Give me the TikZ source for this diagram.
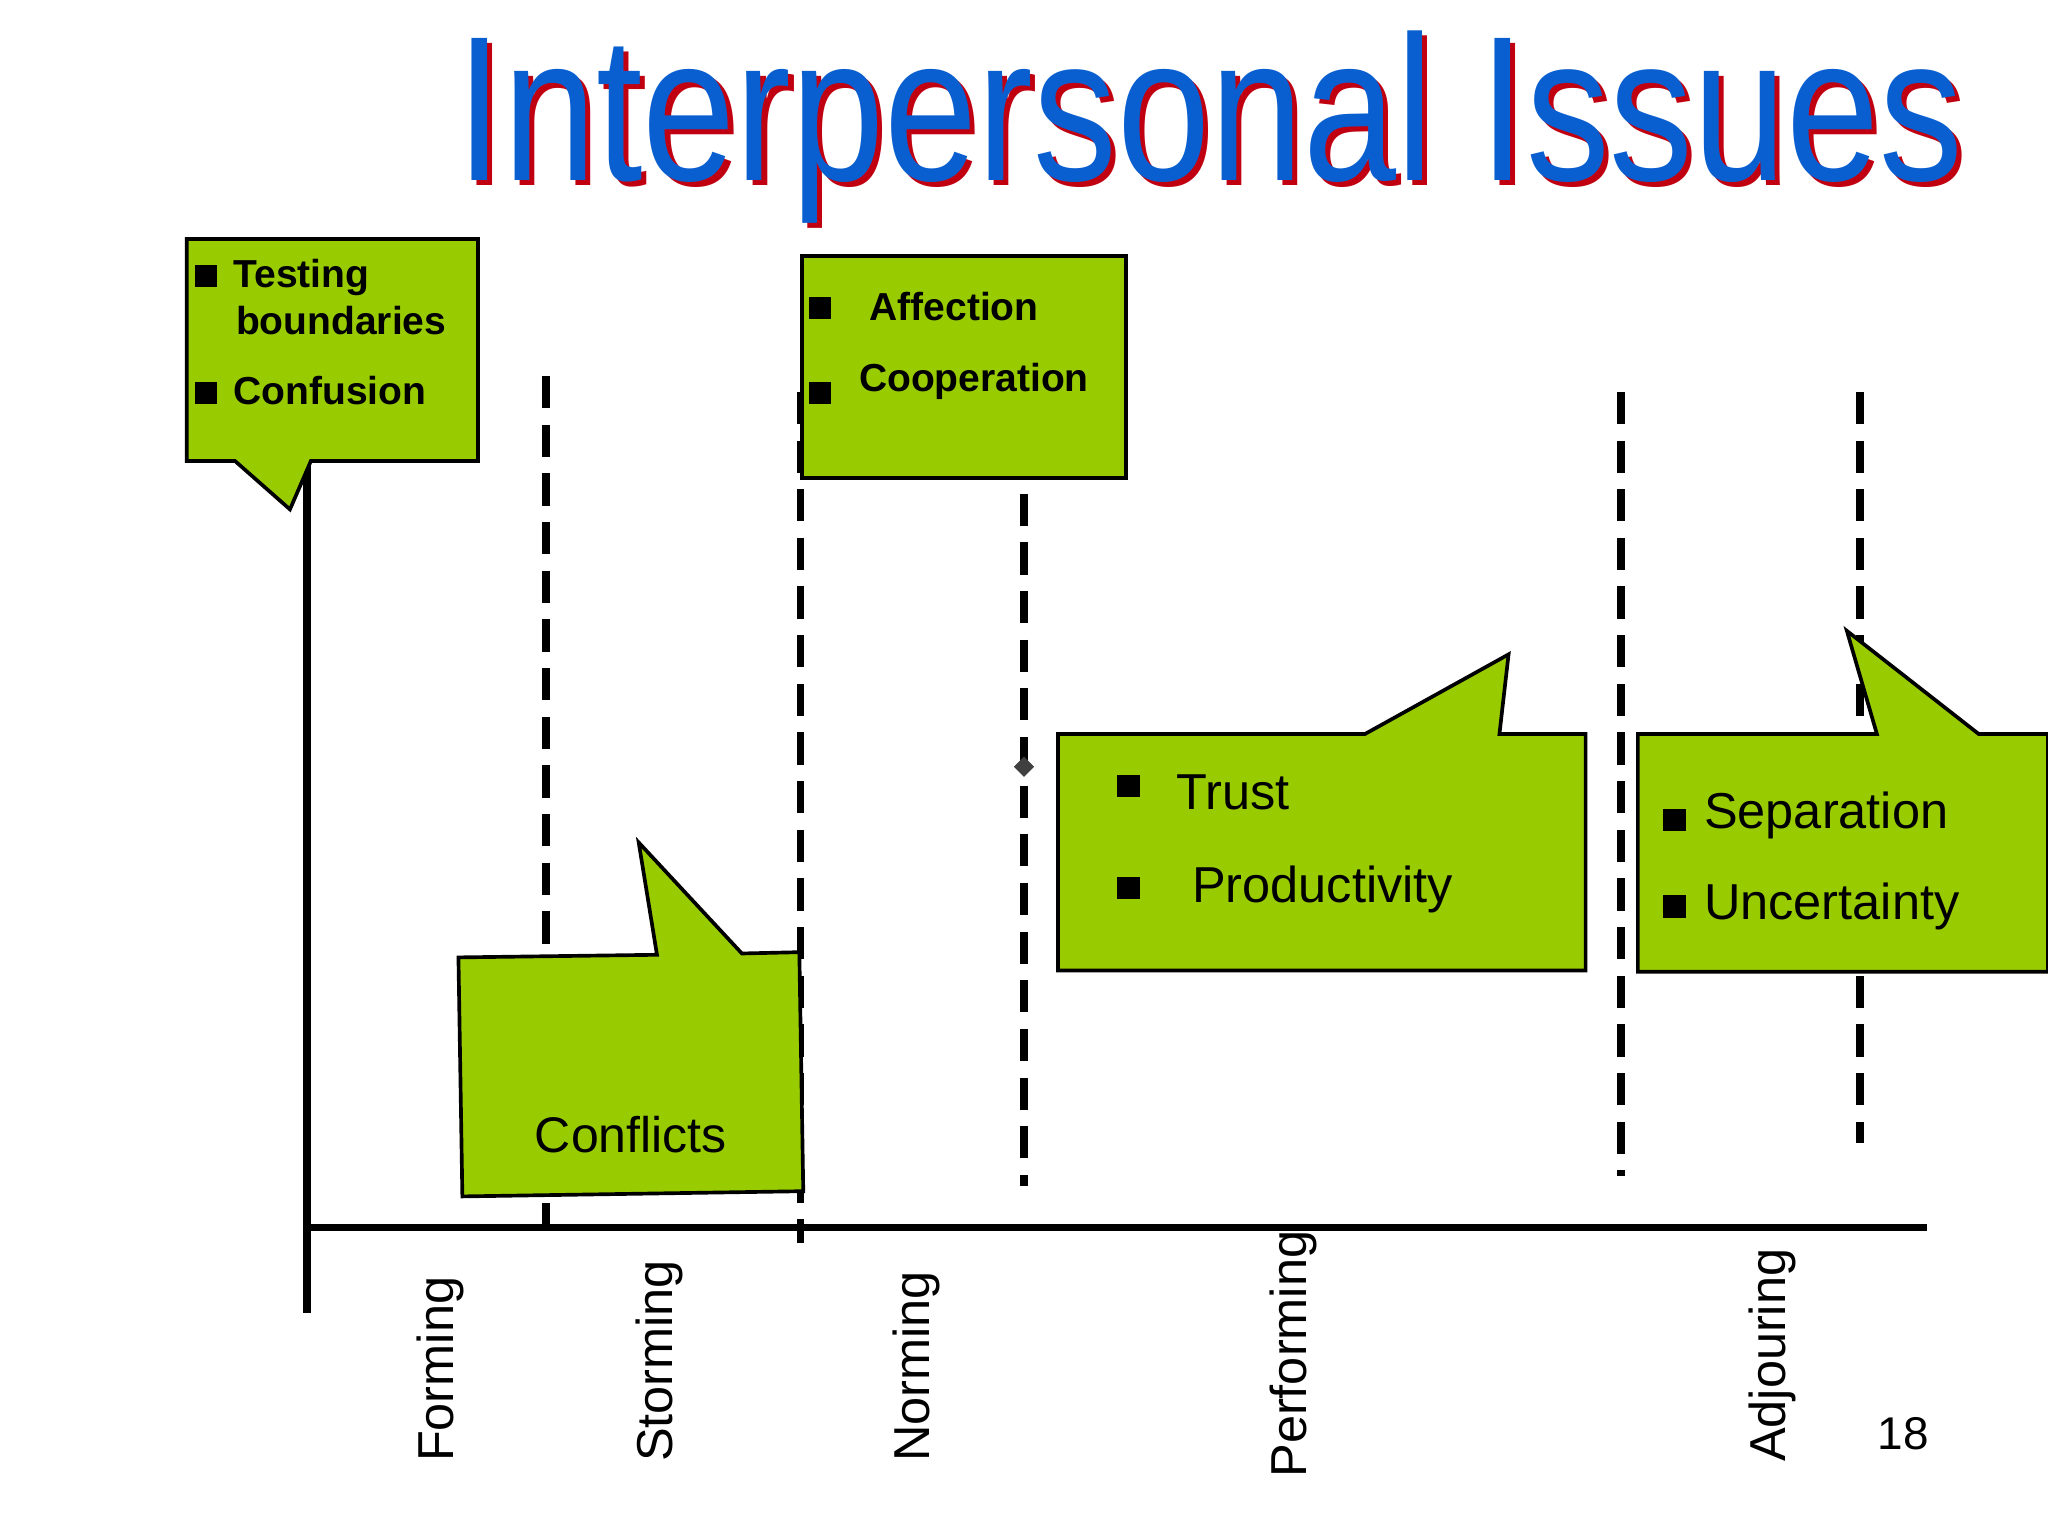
\documentclass[tikz,border=0pt]{standalone}
\usepackage{fontspec}
\setmainfont{Liberation Sans}
\usepackage{graphicx}
\usetikzlibrary{shapes.geometric}
\definecolor{callg}{HTML}{99CC00}
\definecolor{titleblue}{HTML}{0A5FD0}
\definecolor{titlered}{HTML}{C00010}
\begin{document}
\begin{tikzpicture}[x=0.1mm,y=-0.1mm,
  callout/.style={fill=callg,draw=black,line width=0.8pt},
  axisline/.style={line width=1.6pt},
  phase/.style={line width=1.6pt,dash pattern=on 7pt off 3.6pt},
  bul/.style={fill=black,minimum size=1.7mm,inner sep=0pt},
  btxt/.style={font=\fontsize{8.5}{10}\selectfont\bfseries,anchor=base west,inner sep=0pt},
  rtxt/.style={font=\fontsize{11}{13}\selectfont,anchor=base west,inner sep=0pt},
  lab/.style={font=\fontsize{11}{13}\selectfont,rotate=90,anchor=base west,inner sep=0pt}]
\useasboundingbox[fill=white] (0,0) rectangle (1568,1176);
% title
\node[anchor=base west,inner sep=0pt,text=titlered,font=\fontsize{45}{50}\selectfont] (tsh) at (353,142) {\scalebox{0.81}[1]{Interpersonal Issues}};
\node[anchor=base west,inner sep=0pt,text=titleblue,font=\fontsize{45}{50}\selectfont] (title) at (349,138) {\scalebox{0.81}[1]{Interpersonal Issues}};
% phase lines
\coordinate (d1a) at (418,288); \coordinate (d1b) at (418,940);
\coordinate (d2a) at (613,300); \coordinate (d2b) at (613,952);
\coordinate (d3a) at (784,378); \coordinate (d3b) at (784,908);
\coordinate (d4a) at (1241,300); \coordinate (d4b) at (1241,900);
\coordinate (d5a) at (1424,300); \coordinate (d5b) at (1424,875);
\draw[phase] (d1a)--(d1b); \draw[phase] (d2a)--(d2b); \draw[phase] (d3a)--(d3b);
\draw[phase] (d4a)--(d4b); \draw[phase] (d5a)--(d5b);
\node[diamond,fill=black!75,inner sep=0pt,minimum size=1.6mm] (dm) at (784,587) {};
% axes
\coordinate (o) at (235,940); \coordinate (ytop) at (235,350); \coordinate (ybot) at (235,1005);
\coordinate (xend) at (1475,940);
\draw[axisline] (ytop)--(ybot); \draw[axisline] (o)--(xend);
% callout 1
\draw[callout] (143,183)--(366,183)--(366,353)--(238,353)--(222,390)--(180,353)--(143,353)--cycle;
\node[bul] (b1) at (158,211) {}; \node[btxt] (t1) at (178,220) {Testing};
\node[btxt] (t1b) at (180,256) {boundaries};
\node[bul] (b2) at (158,301) {}; \node[btxt] (t2) at (178,310) {Confusion};
% conflicts
\draw[callout] (351,733)--(503,731)--(489,645)--(568,730)--(612,729)--(615,912)--(354,916)--cycle;
\node[font=\fontsize{10.9}{13}\selectfont,anchor=base,inner sep=0pt] (conf) at (483,882) {Conflicts};
% affection
\draw[callout] (614,196) rectangle (862,366);
\node[bul] (b3) at (628,236) {}; \node[btxt] (t3) at (665,245) {Affection};
\node[bul] (b4) at (628,301) {}; \node[btxt] (t4) at (657,300) {Cooperation};
% trust
\draw[callout] (810,562)--(1045,562)--(1155,501)--(1148,562)--(1214,562)--(1214,743)--(810,743)--cycle;
\node[bul] (b5) at (864,602) {}; \node[rtxt] (t5) at (900,620) {Trust};
\node[bul] (b6) at (864,680) {}; \node[rtxt] (t6) at (912,691) {Productivity};
% separation
\draw[callout] (1254,562)--(1437,562)--(1414,483)--(1515,562)--(1568,562)--(1568,744)--(1254,744)--cycle;
\node[bul] (b7) at (1282,628) {}; \node[rtxt] (t7) at (1304,634) {Separation};
\node[bul] (b8) at (1282,694) {}; \node[rtxt] (t8) at (1304,704) {Uncertainty};
% labels
\node[lab] (l1) at (347,1120) {Forming};
\node[lab] (l2) at (515,1120) {Storming};
\node[lab] (l3) at (712,1120) {Norming};
\node[lab] (l4) at (1000,1132) {Performing};
\node[lab] (l5) at (1367,1120) {Adjouring};
\node[font=\fontsize{10}{12}\selectfont,inner sep=0pt] (pg) at (1457,1098) {18};
\end{tikzpicture}
\end{document}
